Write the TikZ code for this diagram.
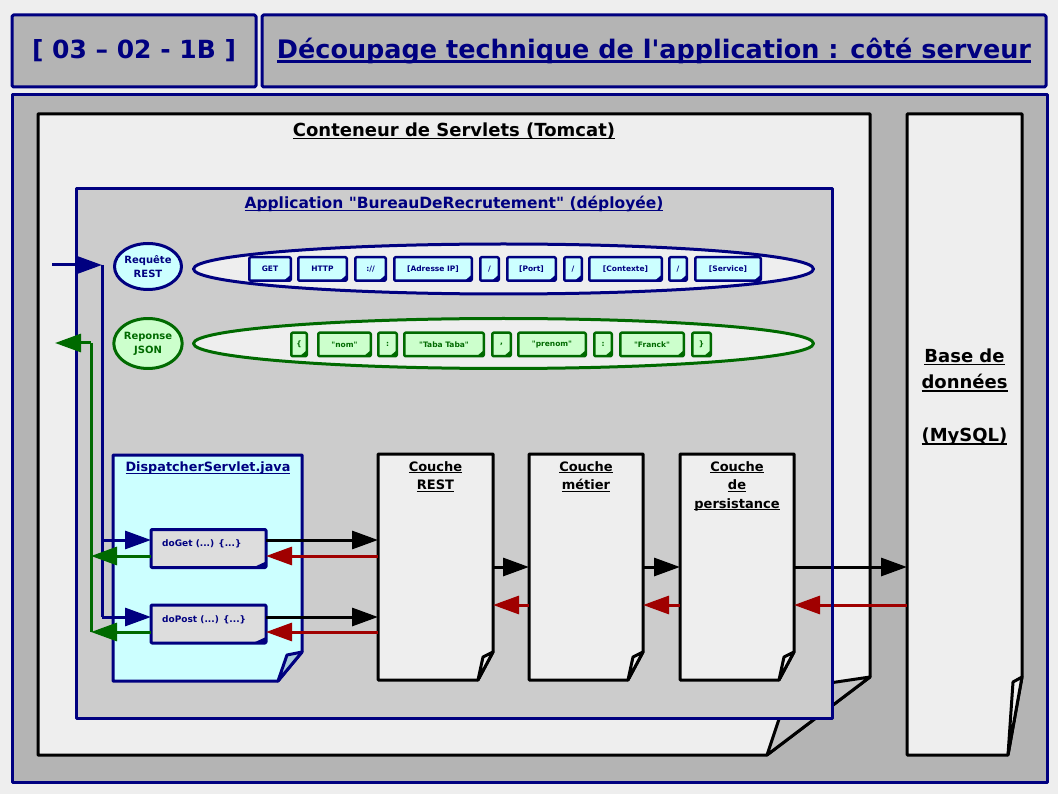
\documentclass[tikz,border=0pt]{standalone}
\usepackage{fontspec}
\setmainfont{DejaVu Sans}[Ligatures=TeXOff]
\usetikzlibrary{arrows.meta,shapes.geometric,calc}
\definecolor{navy}{HTML}{000080}
\definecolor{dgreen}{HTML}{006A00}
\definecolor{dred}{HTML}{A00000}
\definecolor{bgc}{HTML}{EEEEEE}
\definecolor{panel}{HTML}{B4B4B4}
\definecolor{appgray}{HTML}{CCCCCC}
\definecolor{paper}{HTML}{EEEEEE}
\definecolor{cyanf}{HTML}{CCFFFF}
\definecolor{greenf}{HTML}{CCFFCC}
\definecolor{btngray}{HTML}{DDDDDD}
\definecolor{foldblue}{HTML}{A8CCDA}
\definecolor{foldgray}{HTML}{C4C4C4}
\newcommand\UL[1]{\leavevmode\setbox0\hbox{#1}\rlap{\rule[-0.16em]{\wd0}{0.08em}}\box0}
\newcommand\fsz[2]{\fontsize{#1}{#2}\selectfont\bfseries}
% #1 draw style, #2 name, #3 fx, #4 fy, #5 ix, #6 iy, #7 fold fill
\newcommand\docshape[7]{%
  \draw[#1] (#2.north west) -- (#2.north east) -- ([yshift=#4pt]#2.south east) -- ([xshift=-#3pt]#2.south east) -- (#2.south west) -- cycle;
  \draw[#1,fill=#7] ([yshift=#4pt]#2.south east) -- ([xshift=-#5pt,yshift=#6pt]#2.south east) -- ([xshift=-#3pt]#2.south east) -- cycle;
}
% #1 style, #2 name, #3 x1, #4 x2, #5 yc, #6 text
\newcommand\tok[6]{%
  \node[#1, minimum width={(#4-#3-2.5)*1pt}] (#2) at ({(#3+#4)/2},#5) {#6};
  \fill[#1fold] ([xshift=-7pt]#2.south east) -- ([yshift=6pt]#2.south east) -- (#2.south east) -- cycle;
}
\begin{document}
\begin{tikzpicture}[x=1pt,y=-1pt,line join=round,
  area/.style={inner sep=0pt,outer sep=0pt},
  bigarrow/.style={-{Triangle[length=26pt,width=18pt]}},
  navyline/.style={draw=navy,line width=3pt},
  greenline/.style={draw=dgreen,line width=3pt},
  navyarrow/.style={navyline,bigarrow},
  greenarrow/.style={greenline,bigarrow},
  blackarrow/.style={draw=black,line width=3pt,bigarrow},
  redarrow/.style={draw=dred,line width=3pt,bigarrow},
  tokbase/.style={area,draw,line width=2.5pt,rounded corners=1.2pt,minimum height=23.5pt,font=\fsz{7.5}{9}},
  rtok/.style={tokbase,draw=navy,fill=cyanf,text=navy},
  rtokfold/.style={fill=navy},
  jtok/.style={tokbase,draw=dgreen,fill=greenf,text=dgreen},
  jtokfold/.style={fill=dgreen},
  layerdoc/.style={draw=black,fill=paper,line width=3pt},
  lbl/.style={inner sep=0pt,align=center}]
\useasboundingbox (0,0) rectangle (1058,794);
\fill[bgc] (0,0) rectangle (1058,794);

% title boxes
\node[area,draw=navy,fill=panel,line width=3pt,rounded corners=1.5pt,minimum width=244pt,minimum height=72pt] (idbox) at (134,51) {};
\node[text=navy,font=\fsz{25}{30}] (idtxt) at (idbox) {[ 03 – 02 - 1B ]};
\node[area,draw=navy,fill=panel,line width=3pt,rounded corners=1.5pt,minimum width=784pt,minimum height=72pt] (titlebox) at (654,51) {};
\node[text=navy,font=\fsz{25.5}{30}] (titletxt) at (titlebox) {\UL{Découpage technique de l'application : côté serveur}};

% main panel
\node[area,draw=navy,fill=panel,line width=3pt,minimum width=1035pt,minimum height=687pt] (main) at (529.5,438.5) {};

% Tomcat container
\node[area,minimum width=832pt,minimum height=641pt] (tomcat) at (454,434.5) {};
\docshape{layerdoc}{tomcat}{103}{78}{81}{66}{foldgray}
\node[font=\fsz{18}{22}] (tomcattxt) at (454,131) {\UL{Conteneur de Servlets (Tomcat)}};

% Database
\node[area,minimum width=115pt,minimum height=641pt] (db) at (964.5,434.5) {};
\docshape{layerdoc}{db}{14}{78}{9}{73}{paper}
\node[lbl,font=\fsz{18}{26.5}] (dbtxt) at (964.5,397) {\UL{Base de}\\\UL{données}\\\mbox{}\\\UL{(MySQL)}};

% application
\node[area,draw=navy,fill=appgray,line width=3pt,minimum width=756pt,minimum height=529pt] (app) at (454,453.5) {};
\node[text=navy,font=\fsz{15.5}{19}] (apptxt) at (454,204) {\UL{Application "BureauDeRecrutement" (déployée)}};

% request / response
\node[ellipse,draw=navy,fill=cyanf,line width=3pt,minimum width=67pt,minimum height=46pt,inner sep=0pt,align=center,text=navy,font=\fsz{10}{14}] (req) at (148,266.5) {Requête\\REST};
\node[ellipse,draw=dgreen,fill=greenf,line width=3pt,minimum width=67pt,minimum height=50pt,inner sep=0pt,align=center,text=dgreen,font=\fsz{10}{14}] (rep) at (148,343.5) {Reponse\\JSON};
\node[ellipse,draw=navy,fill=paper,line width=3pt,minimum width=620pt,minimum height=50pt] (url) at (503.5,269) {};
\node[ellipse,draw=dgreen,fill=paper,line width=3pt,minimum width=620pt,minimum height=50pt] (json) at (503.5,343.5) {};

\tok{rtok}{t1}{248}{292}{269}{GET}
\tok{rtok}{t2}{297}{348}{269}{HTTP}
\tok{rtok}{t3}{354}{387}{269}{://}
\tok{rtok}{t4}{393}{473}{269}{[Adresse IP]}
\tok{rtok}{t5}{479}{500}{269}{/}
\tok{rtok}{t6}{506}{557}{269}{[Port]}
\tok{rtok}{t7}{563}{583}{269}{/}
\tok{rtok}{t8}{588}{663}{269}{[Contexte]}
\tok{rtok}{t9}{668}{688}{269}{/}
\tok{rtok}{t10}{694}{762}{269}{[Service]}

\tok{jtok}{j1}{290}{308}{344.5}{\{}
\tok{jtok}{j2}{317}{372}{344.5}{"nom"}
\tok{jtok}{j3}{377}{398}{344.5}{:}
\tok{jtok}{j4}{403}{485}{344.5}{"Taba Taba"}
\tok{jtok}{j5}{491}{512}{344.5}{,}
\tok{jtok}{j6}{517}{587}{344.5}{"prenom"}
\tok{jtok}{j7}{593}{613}{344.5}{:}
\tok{jtok}{j8}{619}{685}{344.5}{"Franck"}
\tok{jtok}{j9}{691}{712}{344.5}{\}}

% DispatcherServlet
\node[area,minimum width=189pt,minimum height=226pt] (disp) at (207.5,568) {};
\docshape{draw=navy,fill=cyanf,line width=3pt}{disp}{24}{29}{15}{26}{foldblue}
\node[text=navy,font=\fsz{12.8}{16}] (disptxt) at (208,468) {\UL{DispatcherServlet.java}};

\node[area,draw=navy,fill=btngray,line width=3pt,rounded corners=1pt,minimum width=115pt,minimum height=38pt] (doget) at (208.5,548.5) {};
\fill[navy] ([xshift=-13pt]doget.south east) -- ([yshift=6pt]doget.south east) -- (doget.south east) -- cycle;
\node[text=navy,font=\fsz{9}{11},anchor=west,inner sep=0pt] (dogettxt) at (162,544) {doGet (...) \{...\}};
\node[area,draw=navy,fill=btngray,line width=3pt,rounded corners=1pt,minimum width=115pt,minimum height=38pt] (dopost) at (208.5,624) {};
\fill[navy] ([xshift=-13pt]dopost.south east) -- ([yshift=6pt]dopost.south east) -- (dopost.south east) -- cycle;
\node[text=navy,font=\fsz{9}{11},anchor=west,inner sep=0pt] (doposttxt) at (162,620) {doPost (...) \{...\}};

% layers
\node[area,minimum width=115pt,minimum height=226pt] (rest) at (435.5,567) {};
\docshape{layerdoc}{rest}{15}{28}{10}{23}{paper}
\node[lbl,font=\fsz{13}{18.5},anchor=north] (resttxt) at (435.5,461) {\UL{Couche}\\\UL{REST}};
\node[area,minimum width=114pt,minimum height=226pt] (metier) at (586,567) {};
\docshape{layerdoc}{metier}{15}{28}{10}{23}{paper}
\node[lbl,font=\fsz{13}{18.5},anchor=north] (metiertxt) at (586,461) {\UL{Couche}\\\UL{métier}};
\node[area,minimum width=114pt,minimum height=226pt] (pers) at (737,567) {};
\docshape{layerdoc}{pers}{15}{28}{10}{23}{paper}
\node[lbl,font=\fsz{13}{18.5},anchor=north] (perstxt) at (737,461) {\UL{Couche}\\\UL{de}\\\UL{persistance}};

% connectors
\coordinate (inS) at (52,265);
\coordinate (nvtop) at (102,265);
\coordinate (gv) at (91,343);
\coordinate (outS) at (55,343);
\coordinate (gIn) at ([yshift=8.5pt]doget.west);
\coordinate (gOut) at ([yshift=-7.5pt]doget.west);
\coordinate (pIn) at ([yshift=7pt]dopost.west);
\coordinate (pOut) at ([yshift=-8pt]dopost.west);
\coordinate (yr) at (0,605);

\draw[navyarrow] (inS) -- (nvtop);
\draw[navyline] (nvtop) -- (nvtop |- pIn);
\draw[navyarrow] (nvtop |- gIn) -- (gIn);
\draw[navyarrow] (nvtop |- pIn) -- (pIn);

\draw[greenline] (gv |- pOut) -- (gv);
\draw[greenarrow] (gOut) -- (gv |- gOut);
\draw[greenarrow] (pOut) -- (gv |- pOut);
\draw[greenarrow] (gv) -- (outS);

\draw[blackarrow] ([yshift=8.5pt]doget.east) -- (rest.west |- gIn);
\draw[redarrow] (rest.west |- gOut) -- ([yshift=-7.5pt]doget.east);
\draw[blackarrow] ([yshift=7pt]dopost.east) -- (rest.west |- pIn);
\draw[redarrow] (rest.west |- pOut) -- ([yshift=-8pt]dopost.east);

\draw[blackarrow] (rest.east) -- (metier.west);
\draw[blackarrow] (metier.east) -- (pers.west);
\draw[blackarrow] (pers.east) -- (db.west |- pers.east);
\draw[redarrow] (metier.west |- yr) -- (rest.east |- yr);
\draw[redarrow] (pers.west |- yr) -- (metier.east |- yr);
\draw[redarrow] (db.west |- yr) -- (pers.east |- yr);
\draw[navyline] (app.north east) -- (app.south east);
\end{tikzpicture}
\end{document}
